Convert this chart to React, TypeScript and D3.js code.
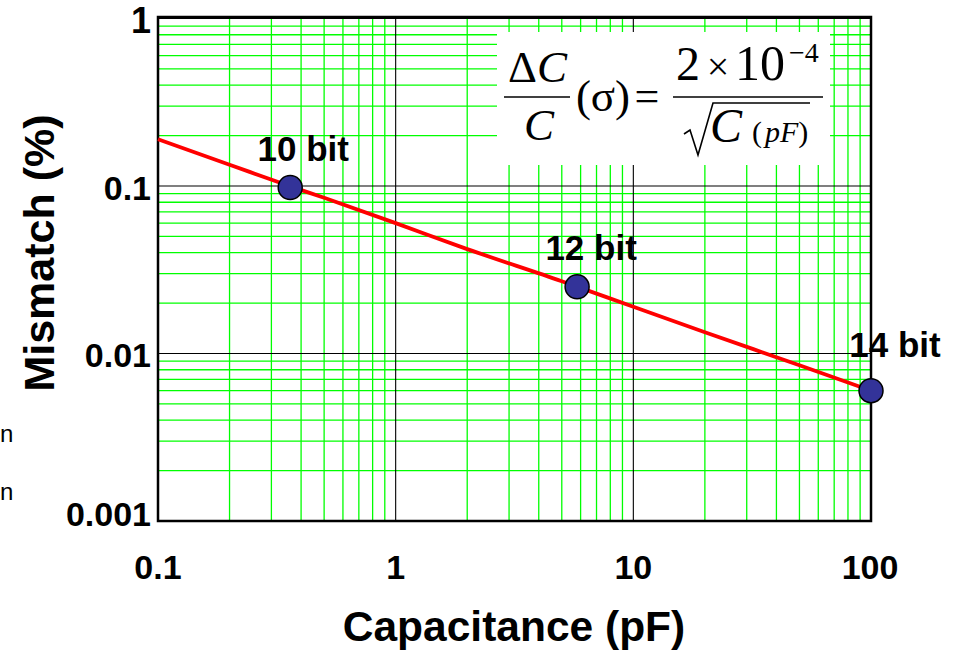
import React from "react";
import * as d3 from "d3";

const xTickLabels = ["0.1", "1", "10", "100"];
const xTickValues = [0.1, 1, 10, 100];
const yTickLabels = ["0.001", "0.01", "0.1", "1"];
const yTickValues = [0.001, 0.01, 0.1, 1];

// red curve
const curveC = [0.1, 0.2, 0.35, 0.5, 1, 2, 5, 10, 20, 50, 100];
const curveM = [0.19, 0.134, 0.101, 0.085, 0.06, 0.042, 0.027, 0.019, 0.0134, 0.0085, 0.006];

const bitLabels = ["10 bit", "12 bit", "14 bit"];
const bitC = [0.36, 5.8, 100];
const bitM = [0.098, 0.025, 0.006];

const W = 964;
const H = 655;
const L = 158, R = 871, T = 18.5, B = 521;

export default function App() {
  const x = d3.scaleLog().domain([0.1, 100]).range([L, R]);
  const y = d3.scaleLog().domain([0.001, 1]).range([B, T]);
  const minorX = x.ticks().filter((v) => !xTickValues.some((m) => Math.abs(m - v) / m < 1e-6));
  const minorY = y.ticks().filter((v) => !yTickValues.some((m) => Math.abs(m - v) / m < 1e-6));
  const line = d3
    .line<number>()
    .x((_, i) => x(curveC[i]))
    .y((d) => y(d))
    .curve(d3.curveMonotoneX);

  const font = "Arial, 'Liberation Sans', sans-serif";
  const serif = "'Liberation Serif', 'DejaVu Serif', serif";
  const labelOffsets = [
    { dx: 13, dy: -26 },
    { dx: 14, dy: -27 },
    { dx: 24, dy: -34 },
  ];
  const yLabelDy = [5, 13, 14, 14.5];

  return (
    <svg width={W} height={H} style={{ position: "absolute", left: 0, top: 0, background: "#fff" }}>
      <rect x={0} y={0} width={W} height={H} fill="#fff" />
      {/* minor grid */}
      {minorX.map((v, i) => (
        <line key={"mx" + i} x1={x(v)} x2={x(v)} y1={T - 1.5} y2={B} stroke="#00ff00" strokeWidth={1.3} />
      ))}
      {minorY.map((v, i) => (
        <line key={"my" + i} x1={L} x2={R} y1={y(v)} y2={y(v)} stroke="#00ff00" strokeWidth={1.3} />
      ))}
      {/* major grid */}
      {xTickValues.map((v, i) => (
        <line key={"Mx" + i} x1={x(v)} x2={x(v)} y1={T} y2={B} stroke="#000" strokeWidth={1.1} />
      ))}
      {yTickValues.map((v, i) => (
        <line key={"My" + i} x1={L} x2={R} y1={y(v)} y2={y(v)} stroke="#000" strokeWidth={1.1} />
      ))}
      {/* formula box */}
      <rect x={497} y={32} width={333} height={133} fill="#fff" />
      {/* frame */}
      <rect x={L} y={17} width={R - L} height={B - 17} fill="none" stroke="#000" strokeWidth={2.5} />
      {/* curve */}
      <path d={line(curveM) || ""} fill="none" stroke="#ff0000" strokeWidth={3.8} />
      {/* points */}
      {bitC.map((c, i) => (
        <circle key={"p" + i} cx={x(c)} cy={y(bitM[i])} r={12} fill="#333399" stroke="#000" strokeWidth={1.5} />
      ))}
      {bitLabels.map((t, i) => (
        <text
          key={"bl" + i}
          x={x(bitC[i]) + labelOffsets[i].dx}
          y={y(bitM[i]) + labelOffsets[i].dy}
          textAnchor="middle"
          fontFamily={font}
          fontWeight="bold"
          fontSize={35}
          fill="#000"
        >
          {t}
        </text>
      ))}
      {/* y tick labels */}
      {yTickValues.map((v, i) => (
        <text
          key={"yt" + i}
          x={151}
          y={y(v) + yLabelDy[i]}
          textAnchor="end"
          fontFamily={font}
          fontWeight="bold"
          fontSize={i === 3 ? 36 : 34}
          fill="#000"
        >
          {yTickLabels[i]}
        </text>
      ))}
      {/* x tick labels */}
      {xTickValues.map((v, i) => (
        <text
          key={"xt" + i}
          x={x(v) + (i === 3 ? -1 : 0)}
          y={579}
          textAnchor="middle"
          fontFamily={font}
          fontWeight="bold"
          fontSize={34}
          fill="#000"
        >
          {xTickLabels[i]}
        </text>
      ))}
      <text x={514} y={641} textAnchor="middle" fontFamily={font} fontWeight="bold" fontSize={42.5} fill="#000">
        Capacitance (pF)
      </text>
      <text
        transform="translate(54,253) rotate(-90)"
        textAnchor="middle"
        fontFamily={font}
        fontWeight="bold"
        fontSize={43}
        fill="#000"
      >
        Mismatch (%)
      </text>
      {/* fragments at left edge */}
      <text x={0} y={442} fontFamily={font} fontSize={24} fill="#000">n</text>
      <text x={0} y={500} fontFamily={font} fontSize={24} fill="#000">n</text>
      {/* formula */}
      <g fontFamily={serif} fill="#000">
        <text x={508} y={82} fontSize={45}>Δ</text>
        <text x={537} y={82} fontSize={45} fontStyle="italic">C</text>
        <line x1={504} x2={570} y1={97} y2={97} stroke="#000" strokeWidth={1.6} />
        <text x={539} y={140} textAnchor="middle" fontSize={45} fontStyle="italic">C</text>
        <text x={603} y={111} textAnchor="middle" fontSize={45}>(σ)</text>
        <text x={647} y={111} textAnchor="middle" fontSize={44}>=</text>
        <line x1={673} x2={823} y1={97} y2={97} stroke="#000" strokeWidth={1.6} />
        <text x={676} y={80} fontSize={48}>2</text>
        <text x={718} y={80} textAnchor="middle" fontSize={40}>×</text>
        <text x={735} y={80} fontSize={50}>10</text>
        <text x={789} y={62} fontSize={28}>−4</text>
        <path d="M684,134 L690,130 L698,155 L713,103 L810,103" fill="none" stroke="#000" strokeWidth={1.6} />
        <text x={710} y={142} fontSize={48} fontStyle="italic">C</text>
        <text x={752} y={142} fontSize={30}>
          (<tspan fontStyle="italic" dx={3}>pF</tspan>)
        </text>
      </g>
    </svg>
  );
}
